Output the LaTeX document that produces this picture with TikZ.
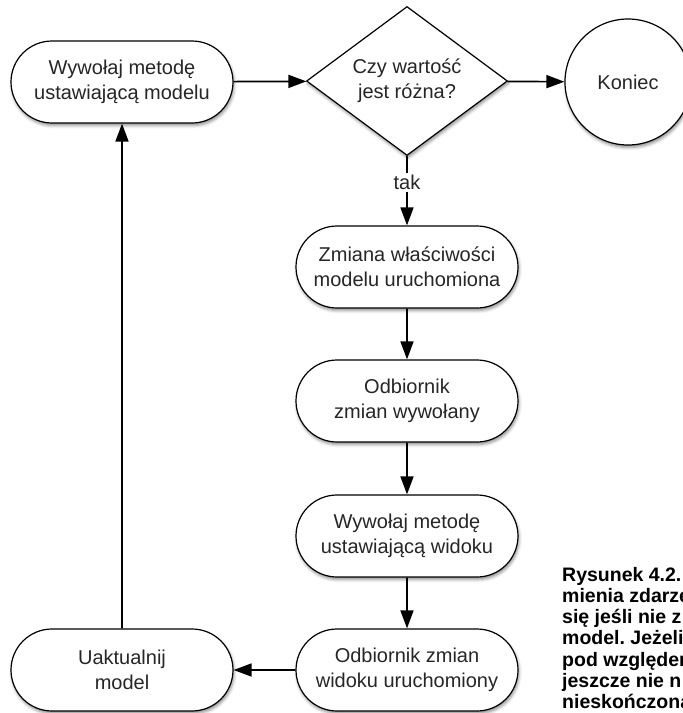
\documentclass[tikz,border=0pt]{standalone}
\usepackage{fontspec}
\setmainfont{Liberation Sans}
\frenchspacing
\usetikzlibrary{shapes.misc,shapes.geometric,arrows.meta,shadows.blur}

\tikzset{
  boxtext/.style={font=\fontsize{20}{25}\selectfont,text=black!85,align=center},
  softshadow/.style={blur shadow={shadow xshift=1pt,shadow yshift=-2.5pt,shadow blur radius=3pt,shadow opacity=45}},
  stadium/.style={boxtext,draw,line width=1.2pt,fill=white,softshadow,rounded rectangle,
    minimum width=222pt,minimum height=82pt,inner sep=0pt},
  decision/.style={boxtext,draw,line width=1.2pt,fill=white,softshadow,diamond,aspect=1.35,
    minimum width=201pt,minimum height=149pt,inner sep=0pt},
  endcircle/.style={boxtext,draw,line width=1.2pt,fill=white,softshadow,circle,
    minimum size=126pt,inner sep=0pt},
  flow/.style={line width=1.7pt,-{Triangle[length=18pt,width=13pt]}},
  captext/.style={font=\fontsize{19.5}{21.3}\selectfont\bfseries,text=black,anchor=base west,inner sep=0pt}
}

\begin{document}
\begin{tikzpicture}[x=1pt,y=-1pt]
  \useasboundingbox (0,0) rectangle (683,713);
  \clip (0,0) rectangle (683,713);
  % top row
  \node[stadium] (call) at (122,82) {Wywołaj metodę\\ustawiającą modelu};
  \node[decision] (check) at (407,81) {Czy wartość\\jest różna?};
  \node[endcircle] (finish) at (628,82) {Koniec};
  % middle column
  \node[stadium] (changed) at (407,267) {Zmiana właściwości\\modelu uruchomiona};
  \node[stadium] (listener) at (407,401) {Odbiornik\\zmian wywołany};
  \node[stadium] (callview) at (407,536) {Wywołaj metodę\\ustawiającą widoku};
  \node[stadium] (viewchanged) at (407,670) {Odbiornik zmian\\widoku uruchomiony};
  \node[stadium] (update) at (122,670) {Uaktualnij\\model};
  % connectors
  \draw[flow] (call) -- (check);
  \draw[flow] (check) -- (finish);
  \draw[flow] (check) -- (changed) node[pos=0.38,fill=white,boxtext,inner sep=2pt] {tak};
  \draw[flow] (changed) -- (listener);
  \draw[flow] (listener) -- (callview);
  \draw[flow] (callview) -- (viewchanged);
  \draw[flow] (viewchanged) -- (update);
  \draw[flow] (update) -- (call);
  % caption, cut off by the page edge
  \foreach \capline [count=\i] in {Rysunek 4.2.,mienia zdarze,się jeśli nie z,model. Jeżeli,pod względem,jeszcze nie n,nieskończona}
    \node[captext] (cap\i) at (562,{581+21.3*(\i-1)}) {\capline};
\end{tikzpicture}
\end{document}
